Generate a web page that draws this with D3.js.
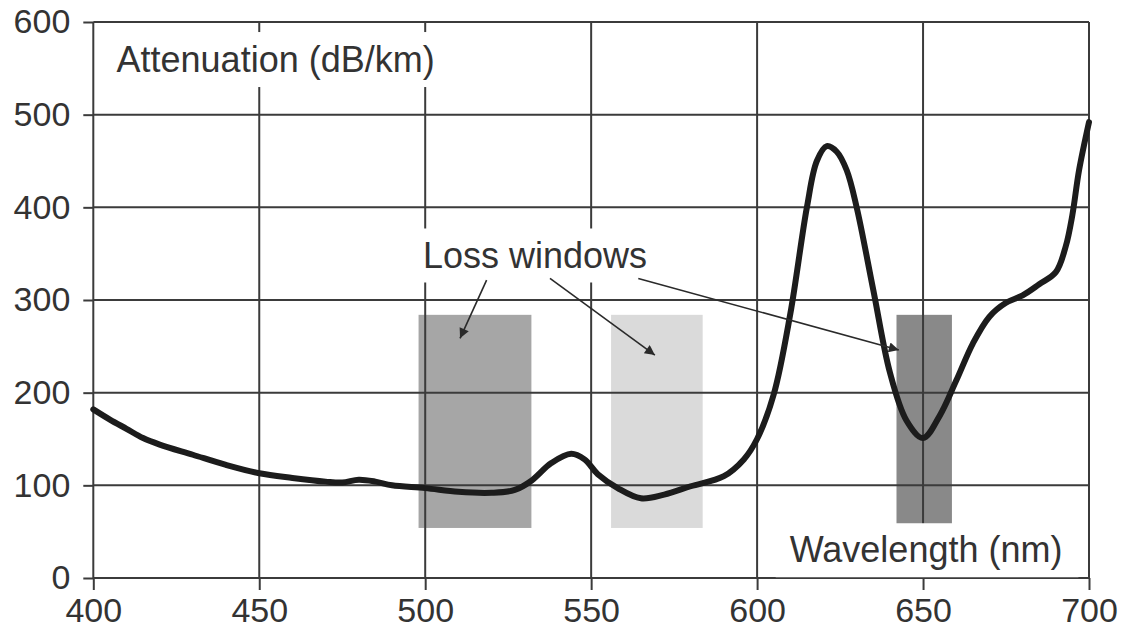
<!DOCTYPE html>
<html>
<head>
<meta charset="utf-8">
<script src="https://cdn.jsdelivr.net/npm/d3@7"></script>
<style>
  html, body { margin: 0; padding: 0; background: #fff; }
  svg { display: block; }
  text { font-family: "Liberation Sans", Arial, Helvetica, sans-serif; }
</style>
</head>
<body>
<svg id="chart" width="1127" height="630"></svg>
<script>
// Attenuation spectrum of PMMA polymer optical fibre
const wavelength = [400, 405, 410, 415, 420, 430, 440, 450, 460, 470, 475, 480, 485, 490, 500,
  510, 520, 527, 532, 538, 544, 548, 552, 558, 565, 572, 580, 590, 596, 600,
  605, 610, 615, 618, 621, 624, 627, 630, 635, 640, 645, 650, 655, 660,
  665, 670, 675, 680, 685, 690, 693, 695, 697, 700];
const attenuation = [182, 171, 161, 151, 144, 133, 122, 113, 108, 104, 103, 106, 104, 100, 97,
  93, 92, 95, 105, 124, 134, 128, 112, 97, 86, 90, 99, 110, 128, 150,
  198, 285, 400, 450, 466, 460, 440, 400, 311, 222, 170, 151, 175, 213,
  253, 282, 297, 305, 317, 330, 358, 392, 440, 492];

// Low-loss transmission windows
const windowStart = [498, 556, 642];
const windowEnd = [532, 583.6, 658.7];
const windowLow = [54, 54, 54];
const windowHigh = [284, 284, 284];
const windowFill = ["#a6a6a6", "#dadada", "#898989"];

const xTicks = [400, 450, 500, 550, 600, 650, 700];
const yTicks = [0, 100, 200, 300, 400, 500, 600];

// Callout arrows from the "Loss windows" label
const arrowFromX = [518.5, 537.6, 564.2];
const arrowFromY = [321.5, 323.3, 323.3];
const arrowToX = [510.5, 569.2, 642.7];
const arrowToY = [258.6, 240.6, 246];

const yTitle = "Attenuation (dB/km)";
const xTitle = "Wavelength (nm)";
const calloutText = "Loss windows";

const svg = d3.select("#chart");
const x = d3.scaleLinear().domain([400, 700]).range([93.3, 1089]);
const y = d3.scaleLinear().domain([0, 600]).range([578, 22]);

const gridColor = "#3b3b3b";
const textColor = "#333";

// window bands
svg.append("g").selectAll("rect")
  .data(windowStart.map((s, i) => i))
  .join("rect")
  .attr("x", i => x(windowStart[i]))
  .attr("width", i => x(windowEnd[i]) - x(windowStart[i]))
  .attr("y", i => y(windowHigh[i]))
  .attr("height", i => y(windowLow[i]) - y(windowHigh[i]))
  .attr("fill", i => windowFill[i]);

// grid
const grid = svg.append("g").attr("stroke", gridColor).attr("stroke-width", 2);
grid.selectAll("line.v").data(xTicks).join("line")
  .attr("class", "v")
  .attr("x1", d => x(d)).attr("x2", d => x(d))
  .attr("y1", y(0)).attr("y2", y(600));
grid.selectAll("line.h").data(yTicks).join("line")
  .attr("class", "h")
  .attr("x1", x(400)).attr("x2", x(700))
  .attr("y1", d => y(d)).attr("y2", d => y(d));

// axes (ticks and labels)
const yAxis = svg.append("g")
  .attr("transform", `translate(${x(400)},0)`)
  .call(d3.axisLeft(y).tickValues(yTicks).tickSize(10).tickPadding(13).tickFormat(d3.format("d")));
const xAxis = svg.append("g")
  .attr("transform", `translate(0,${y(0)})`)
  .call(d3.axisBottom(x).tickValues(xTicks).tickSize(12).tickPadding(8).tickFormat(d3.format("d")));
[yAxis, xAxis].forEach(g => {
  g.select(".domain").remove();
  g.selectAll(".tick line").attr("stroke", gridColor).attr("stroke-width", 2);
  g.selectAll(".tick text")
    .attr("fill", textColor)
    .style("font-family", '"Liberation Sans", Arial, sans-serif')
    .style("font-size", "34px");
});

// labels sitting on white boxes that interrupt the grid
function boxedLabel(txt, px, py, anchor, padL, padR, padT, padB) {
  const g = svg.append("g");
  const r = g.append("rect").attr("fill", "#fff");
  const t = g.append("text")
    .attr("x", px).attr("y", py)
    .attr("text-anchor", anchor)
    .attr("fill", textColor)
    .style("font-size", "36px")
    .text(txt);
  const b = t.node().getBBox();
  r.attr("x", b.x - padL).attr("y", py - padT)
    .attr("width", b.width + padL + padR)
    .attr("height", padT + padB);
  return g;
}
boxedLabel(yTitle, x(407), y(546), "start", 10, 12, 40, 15);
boxedLabel(calloutText, x(499.3), y(334), "start", 11, 8, 40, 14);
boxedLabel(xTitle, x(692), y(17), "end", 14, 16, 39, 15);

// attenuation curve
const line = d3.line()
  .x((d, i) => x(wavelength[i]))
  .y(d => y(d))
  .curve(d3.curveCatmullRom.alpha(0.5));
svg.append("path")
  .datum(attenuation)
  .attr("d", line)
  .attr("fill", "none")
  .attr("stroke", "#1c1c1c")
  .attr("stroke-width", 6)
  .attr("stroke-linejoin", "round")
  .attr("stroke-linecap", "round");

// callout arrows
svg.append("defs").append("marker")
  .attr("id", "head")
  .attr("viewBox", "0 0 10 10")
  .attr("refX", 10).attr("refY", 5)
  .attr("markerWidth", 16).attr("markerHeight", 10)
  .attr("markerUnits", "userSpaceOnUse")
  .attr("orient", "auto")
  .append("path")
  .attr("d", "M0,0 L10,5 L0,10 z")
  .attr("fill", "#2a2a2a");

svg.append("g").selectAll("line")
  .data(arrowFromX.map((d, i) => i))
  .join("line")
  .attr("x1", i => x(arrowFromX[i])).attr("y1", i => y(arrowFromY[i]))
  .attr("x2", i => x(arrowToX[i])).attr("y2", i => y(arrowToY[i]))
  .attr("stroke", "#2a2a2a")
  .attr("stroke-width", 1.6)
  .attr("marker-end", "url(#head)");
</script>
</body>
</html>
